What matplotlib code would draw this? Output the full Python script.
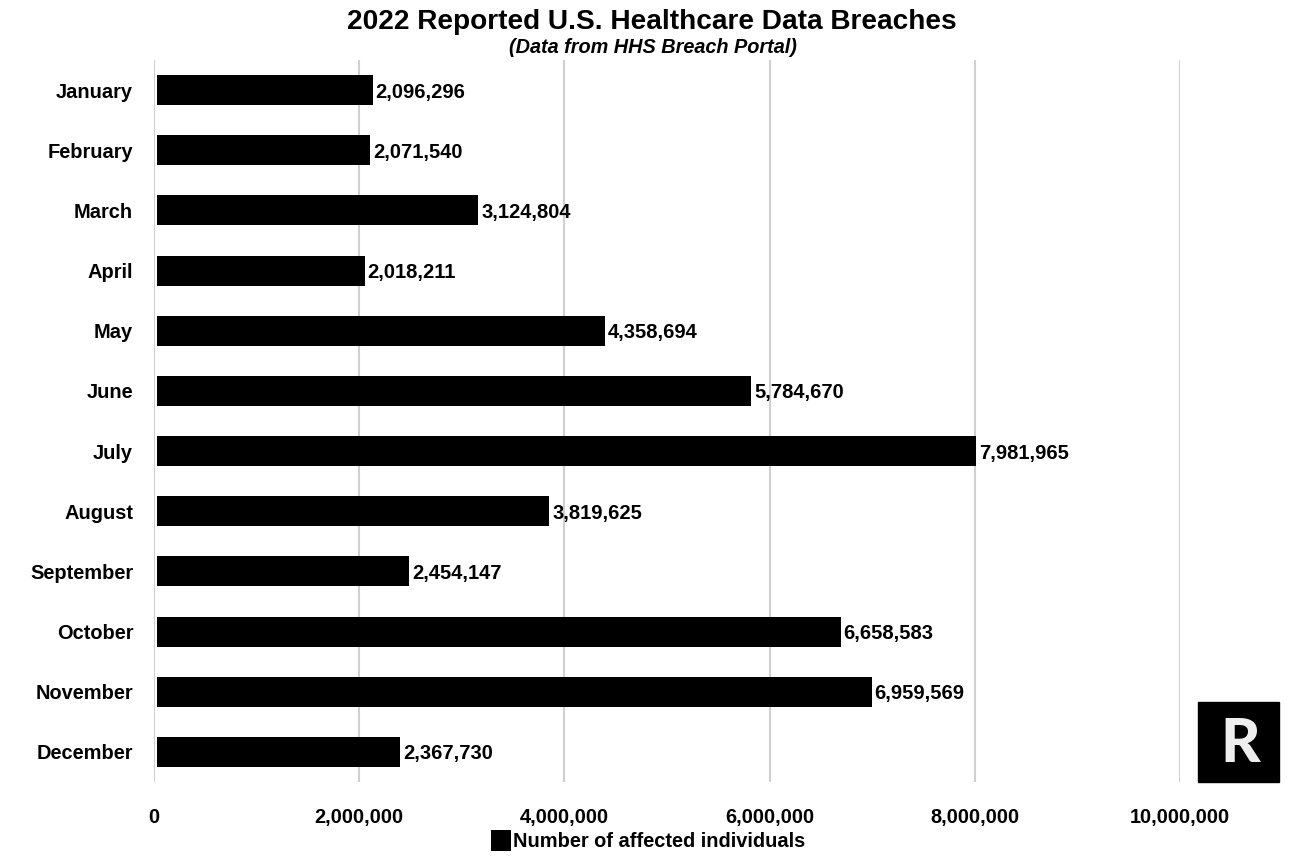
import matplotlib.pyplot as plt
import matplotlib.transforms as mtransforms
import numpy as np

months = ["January", "February", "March", "April", "May", "June", "July",
          "August", "September", "October", "November", "December"]
affected = [2096296, 2071540, 3124804, 2018211, 4358694, 5784670, 7981965,
            3819625, 2454147, 6658583, 6959569, 2367730]
xticks = [0, 2000000, 4000000, 6000000, 8000000, 10000000]

plt.rcParams['font.family'] = ['Liberation Sans', 'DejaVu Sans']
plt.rcParams['font.weight'] = 'bold'

fig = plt.figure(figsize=(12.96, 8.63), dpi=100)
ax = fig.add_axes([0.1188, 0.0939, 0.7917, 0.8366])

# bars sit a few pixels right of the zero gridline in the original
shift = mtransforms.ScaledTranslation(0.035, 0, fig.dpi_scale_trans)

y = np.arange(len(months))
bars = ax.barh(y, affected, height=0.5, color='black', label='Number of affected individuals')
for b in bars:
    b.set_transform(ax.transData + shift)
for yi, v in zip(y, affected):
    ax.text(v + 30000, yi, f"{v:,}", va='center_baseline', ha='left', fontsize=14.5,
            fontweight='bold', transform=ax.transData + shift)

ax.set_ylim(len(months) - 0.5, -0.5)
ax.set_xlim(0, 10000000)
ax.set_yticks(y)
ax.set_yticklabels(months, fontsize=14.4, fontweight='bold')
ax.set_xticks(xticks)
ax.set_xticklabels([f"{t:,}" for t in xticks], fontsize=14.4, fontweight='bold')
ax.tick_params(axis='both', length=0)
ax.tick_params(axis='y', pad=15)
ax.tick_params(axis='x', pad=19)
for s in ax.spines.values():
    s.set_visible(False)
ax.grid(axis='x', color='#d0d0d0', linewidth=1.5)
ax.set_axisbelow(True)

fig.text(0.503, 0.975, "2022 Reported U.S. Healthcare Data Breaches", ha='center', va='center',
         fontsize=20.2, fontweight='bold')
fig.text(0.504, 0.945, "(Data from HHS Breach Portal)", ha='center', va='center',
         fontsize=14.3, fontweight='bold', style='italic')

fig.legend(handles=[bars], loc='center', bbox_to_anchor=(0.500, 0.026), frameon=False,
           prop={'size': 14.4, 'weight': 'bold'}, handlelength=1.0, handleheight=1.2,
           handletextpad=0.1)

# logo box
fig.patches.append(plt.Rectangle((1198 / 1296, 1 - 782 / 863), 81 / 1296, 80 / 863,
                                 transform=fig.transFigure, color='black'))
fig.text(1240 / 1296, 1 - 744 / 863, "R", ha='center', va='center', color='#eeeeee',
         fontsize=44, fontweight=900, family=['Lato', 'DejaVu Sans'])

fig.savefig("out.png", dpi=100)
